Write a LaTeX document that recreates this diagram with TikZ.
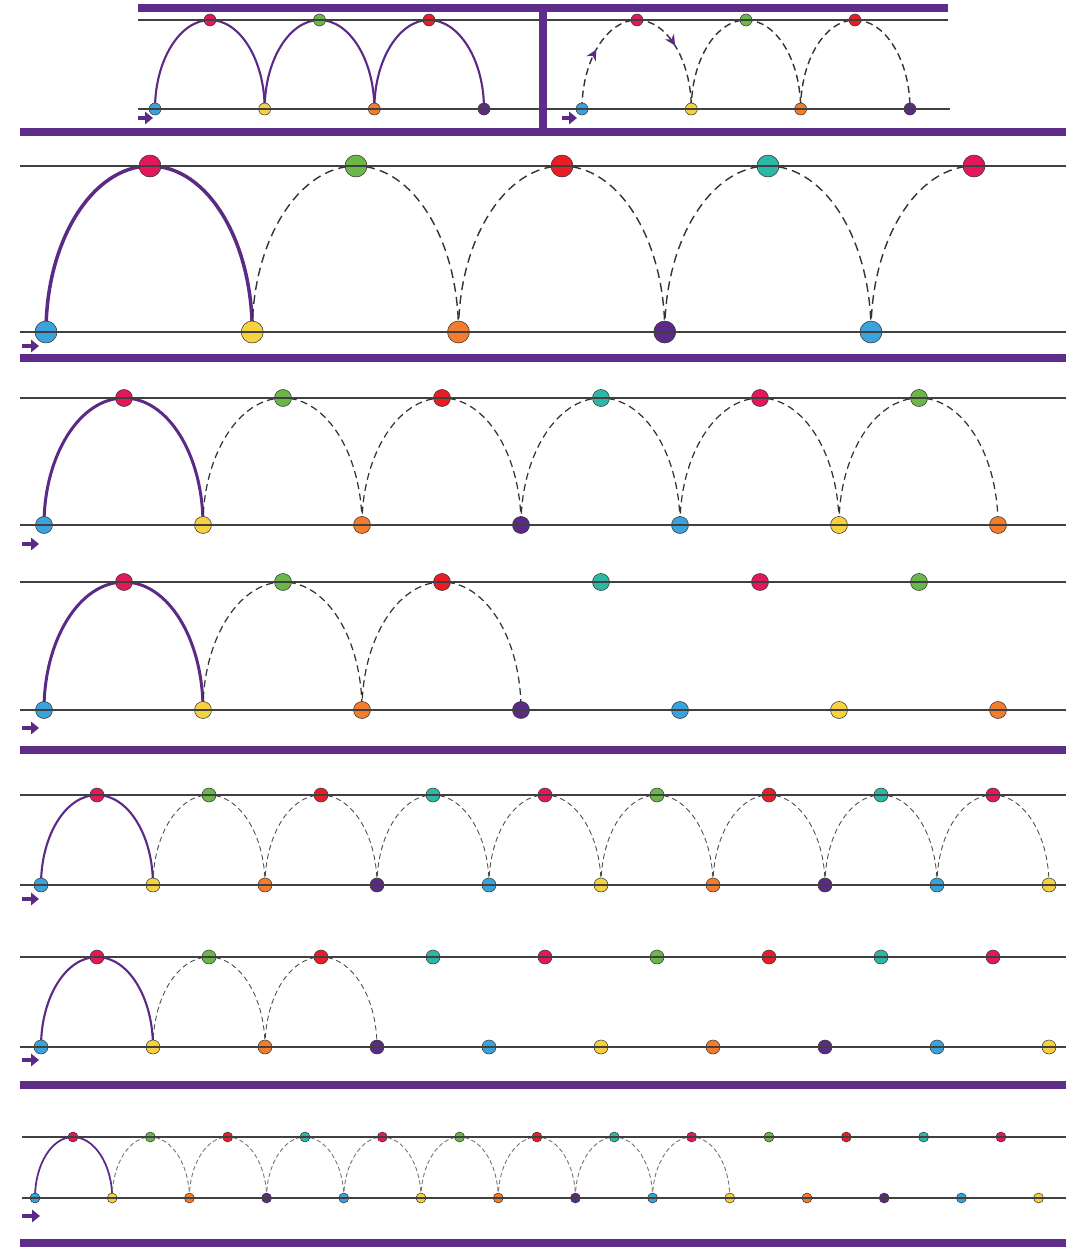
\documentclass[tikz,border=0pt]{standalone}
\usepackage{xcolor}
\usepackage{tikz}
\usetikzlibrary{arrows.meta, backgrounds, decorations.markings}

\definecolor{beadblue}{HTML}{3BA3DC}
\definecolor{beadyellow}{HTML}{F7D23E}
\definecolor{beadorange}{HTML}{F47C2B}
\definecolor{beadviolet}{HTML}{5B2A86}
\definecolor{beadcrimson}{HTML}{E4175B}
\definecolor{beadgreen}{HTML}{6BB74A}
\definecolor{beadred}{HTML}{EC1C24}
\definecolor{beadteal}{HTML}{2DB7A5}
\definecolor{barpurple}{HTML}{5E2C89}
\definecolor{hoppurple}{HTML}{5B2A86}

\begin{document}
\begin{tikzpicture}[
    x=0.02cm, y=-0.02cm,
    >=Stealth,
    bead/.style={circle, draw=black!80, line width=0.3pt, inner sep=0pt, minimum size=#1},
    rail/.style={line width=1.2pt, black!75},
    bar/.style={line width=4.5pt, barpurple},
    hop/.style={line width=1.6pt, hoppurple},
    skip/.style={dash pattern=on 4pt off 2.5pt, line width=0.7pt, black!80},
    entry/.style={-{Triangle[length=4.5pt,width=7pt]}, line width=2.6pt, hoppurple},
]
\useasboundingbox (0,0) rectangle (1066,1249);

% === PANEL A: solid hops ===
\foreach \c [count=\i] in {beadblue, beadyellow, beadorange, beadviolet}
    \node[bead=0.24cm, fill=\c] (ab\i) at ({155+(\i-1)*109.67}, 109) {};
\foreach \c [count=\i] in {beadcrimson, beadgreen, beadred}
    \node[bead=0.24cm, fill=\c] (at\i) at ({210+(\i-1)*109.5}, 20) {};

% === PANEL B: dashed hops ===
\foreach \c [count=\i] in {beadblue, beadyellow, beadorange, beadviolet}
    \node[bead=0.24cm, fill=\c] (bb\i) at ({582+(\i-1)*109.33}, 109) {};
\foreach \c [count=\i] in {beadcrimson, beadgreen, beadred}
    \node[bead=0.24cm, fill=\c] (bt\i) at ({637+(\i-1)*109}, 20) {};

\begin{scope}[on background layer]
    \foreach \i [evaluate=\i as \j using int(\i+1)] in {1,2,3}
        \draw[hop, line width=1.2pt] (ab\i.center) .. controls +(0,-49) and +(-30,0) .. (at\i.center)
            .. controls +(30,0) and +(0,-49) .. (ab\j.center);
    \draw[skip, line width=0.8pt, postaction={decorate}, decoration={markings,
            mark=at position 0.27 with {\arrow[hoppurple, solid]{Stealth[length=6pt,width=6pt]}},
            mark=at position 0.71 with {\arrow[hoppurple, solid]{Stealth[length=6pt,width=6pt]}}}]
        (bb1.center) .. controls +(0,-49) and +(-30,0) .. (bt1.center)
        .. controls +(30,0) and +(0,-49) .. (bb2.center);
    \foreach \i [evaluate=\i as \j using int(\i+1)] in {2,3}
        \draw[skip, line width=0.8pt] (bb\i.center) .. controls +(0,-49) and +(-30,0) .. (bt\i.center)
            .. controls +(30,0) and +(0,-49) .. (bb\j.center);
\end{scope}

\coordinate (aa1) at (138,118);
\coordinate (aa2) at (153,118);
\coordinate (ba1) at (562,118);
\coordinate (ba2) at (577,118);
\draw[entry, line width=2.2pt] (aa1) -- (aa2);
\draw[entry, line width=2.2pt] (ba1) -- (ba2);

\coordinate (rA1) at (138,20);
\coordinate (rA2) at (948,20);
\coordinate (rA3) at (138,109);
\coordinate (rA4) at (950,109);
\draw[rail] (rA1) -- (rA2);
\draw[rail] (rA3) -- (rA4);

\coordinate (bar0a) at (138,8);
\coordinate (bar0b) at (948,8);
\coordinate (bar0c) at (543,8);
\coordinate (bar0d) at (543,132);
\coordinate (bar1a) at (20,132);
\coordinate (bar1b) at (1066,132);
\draw[bar] (bar0a) -- (bar0b);
\draw[bar, line width=4pt] (bar0c) -- (bar0d);
\draw[bar] (bar1a) -- (bar1b);

% === PANEL 1: five rungs ===
\foreach \c [count=\i] in {beadblue, beadyellow, beadorange, beadviolet, beadblue}
    \node[bead=0.44cm, fill=\c] (p1b\i) at ({46+(\i-1)*206.25}, 332) {};
\foreach \c [count=\i] in {beadcrimson, beadgreen, beadred, beadteal, beadcrimson}
    \node[bead=0.44cm, fill=\c] (p1t\i) at ({150+(\i-1)*206}, 166) {};

\begin{scope}[on background layer]
    \draw[hop, line width=2pt] (p1b1.center) .. controls +(0,-92) and +(-57,0) .. (p1t1.center)
        .. controls +(57,0) and +(0,-92) .. (p1b2.center);
    \foreach \i [evaluate=\i as \j using int(\i+1)] in {2,3,4}
        \draw[skip, dash pattern=on 5pt off 3pt, line width=0.8pt] (p1b\i.center) .. controls +(0,-92) and +(-57,0) .. (p1t\i.center)
            .. controls +(57,0) and +(0,-92) .. (p1b\j.center);
    \draw[skip, dash pattern=on 5pt off 3pt, line width=0.8pt] (p1b5.center) .. controls +(0,-92) and +(-57,0) .. (p1t5.center);
\end{scope}

\coordinate (r1a) at (20,166);
\coordinate (r1b) at (1066,166);
\coordinate (r1c) at (20,332);
\coordinate (r1d) at (1066,332);
\draw[rail] (r1a) -- (r1b);
\draw[rail] (r1c) -- (r1d);
\coordinate (a1s) at (22,346);
\coordinate (a1e) at (39,346);
\draw[entry] (a1s) -- (a1e);
\coordinate (bar2a) at (20,358);
\coordinate (bar2b) at (1066,358);
\draw[bar] (bar2a) -- (bar2b);

% === PANEL 2: seven rungs, all hops ===
\foreach \c [count=\i] in {beadblue, beadyellow, beadorange, beadviolet, beadblue, beadyellow, beadorange}
    \node[bead=0.34cm, fill=\c] (p2b\i) at ({44+(\i-1)*159}, 525) {};
\foreach \c [count=\i] in {beadcrimson, beadgreen, beadred, beadteal, beadcrimson, beadgreen}
    \node[bead=0.34cm, fill=\c] (p2t\i) at ({124+(\i-1)*159}, 398) {};

\begin{scope}[on background layer]
    \draw[hop, line width=1.7pt] (p2b1.center) .. controls +(0,-70) and +(-44,0) .. (p2t1.center)
        .. controls +(44,0) and +(0,-70) .. (p2b2.center);
    \foreach \i [evaluate=\i as \j using int(\i+1)] in {2,...,6}
        \draw[skip] (p2b\i.center) .. controls +(0,-70) and +(-44,0) .. (p2t\i.center)
            .. controls +(44,0) and +(0,-70) .. (p2b\j.center);
\end{scope}

\coordinate (r2a) at (20,398);
\coordinate (r2b) at (1066,398);
\coordinate (r2c) at (20,525);
\coordinate (r2d) at (1066,525);
\draw[rail] (r2a) -- (r2b);
\draw[rail] (r2c) -- (r2d);
\coordinate (a2s) at (22,544);
\coordinate (a2e) at (39,544);
\draw[entry] (a2s) -- (a2e);

% === PANEL 3: seven rungs, three hops ===
\foreach \c [count=\i] in {beadblue, beadyellow, beadorange, beadviolet, beadblue, beadyellow, beadorange}
    \node[bead=0.34cm, fill=\c] (p3b\i) at ({44+(\i-1)*159}, 710) {};
\foreach \c [count=\i] in {beadcrimson, beadgreen, beadred, beadteal, beadcrimson, beadgreen}
    \node[bead=0.34cm, fill=\c] (p3t\i) at ({124+(\i-1)*159}, 582) {};

\begin{scope}[on background layer]
    \draw[hop, line width=1.7pt] (p3b1.center) .. controls +(0,-71) and +(-44,0) .. (p3t1.center)
        .. controls +(44,0) and +(0,-71) .. (p3b2.center);
    \foreach \i [evaluate=\i as \j using int(\i+1)] in {2,3}
        \draw[skip] (p3b\i.center) .. controls +(0,-71) and +(-44,0) .. (p3t\i.center)
            .. controls +(44,0) and +(0,-71) .. (p3b\j.center);
\end{scope}

\coordinate (r3a) at (20,582);
\coordinate (r3b) at (1066,582);
\coordinate (r3c) at (20,710);
\coordinate (r3d) at (1066,710);
\draw[rail] (r3a) -- (r3b);
\draw[rail] (r3c) -- (r3d);
\coordinate (a3s) at (22,728);
\coordinate (a3e) at (39,728);
\draw[entry] (a3s) -- (a3e);
\coordinate (bar3a) at (20,750);
\coordinate (bar3b) at (1066,750);
\draw[bar] (bar3a) -- (bar3b);

% === PANEL 4: ten rungs, all hops ===
\foreach \c [count=\i] in {beadblue, beadyellow, beadorange, beadviolet, beadblue, beadyellow, beadorange, beadviolet, beadblue, beadyellow}
    \node[bead=0.28cm, fill=\c] (p4b\i) at ({41+(\i-1)*112}, 885) {};
\foreach \c [count=\i] in {beadcrimson, beadgreen, beadred, beadteal, beadcrimson, beadgreen, beadred, beadteal, beadcrimson}
    \node[bead=0.28cm, fill=\c] (p4t\i) at ({97+(\i-1)*112}, 795) {};

\begin{scope}[on background layer]
    \draw[hop, line width=1.2pt] (p4b1.center) .. controls +(0,-50) and +(-31,0) .. (p4t1.center)
        .. controls +(31,0) and +(0,-50) .. (p4b2.center);
    \foreach \i [evaluate=\i as \j using int(\i+1)] in {2,...,9}
        \draw[skip, dash pattern=on 3pt off 2pt, line width=0.5pt, black!70] (p4b\i.center) .. controls +(0,-50) and +(-31,0) .. (p4t\i.center)
            .. controls +(31,0) and +(0,-50) .. (p4b\j.center);
\end{scope}

\coordinate (r4a) at (20,795);
\coordinate (r4b) at (1066,795);
\coordinate (r4c) at (20,885);
\coordinate (r4d) at (1066,885);
\draw[rail] (r4a) -- (r4b);
\draw[rail] (r4c) -- (r4d);
\coordinate (a4s) at (22,899);
\coordinate (a4e) at (39,899);
\draw[entry] (a4s) -- (a4e);

% === PANEL 5: ten rungs, three hops ===
\foreach \c [count=\i] in {beadblue, beadyellow, beadorange, beadviolet, beadblue, beadyellow, beadorange, beadviolet, beadblue, beadyellow}
    \node[bead=0.28cm, fill=\c] (p5b\i) at ({41+(\i-1)*112}, 1047) {};
\foreach \c [count=\i] in {beadcrimson, beadgreen, beadred, beadteal, beadcrimson, beadgreen, beadred, beadteal, beadcrimson}
    \node[bead=0.28cm, fill=\c] (p5t\i) at ({97+(\i-1)*112}, 957) {};

\begin{scope}[on background layer]
    \draw[hop, line width=1.2pt] (p5b1.center) .. controls +(0,-50) and +(-31,0) .. (p5t1.center)
        .. controls +(31,0) and +(0,-50) .. (p5b2.center);
    \foreach \i [evaluate=\i as \j using int(\i+1)] in {2,3}
        \draw[skip, dash pattern=on 3pt off 2pt, line width=0.5pt, black!70] (p5b\i.center) .. controls +(0,-50) and +(-31,0) .. (p5t\i.center)
            .. controls +(31,0) and +(0,-50) .. (p5b\j.center);
\end{scope}

\coordinate (r5a) at (20,957);
\coordinate (r5b) at (1066,957);
\coordinate (r5c) at (20,1047);
\coordinate (r5d) at (1066,1047);
\draw[rail] (r5a) -- (r5b);
\draw[rail] (r5c) -- (r5d);
\coordinate (a5s) at (22,1060);
\coordinate (a5e) at (39,1060);
\draw[entry] (a5s) -- (a5e);
\coordinate (bar5a) at (20,1085);
\coordinate (bar5b) at (1066,1085);
\draw[bar] (bar5a) -- (bar5b);

% === PANEL 6: fourteen rungs ===
\foreach \c [count=\i] in {beadblue, beadyellow, beadorange, beadviolet, beadblue, beadyellow, beadorange, beadviolet, beadblue, beadyellow, beadorange, beadviolet, beadblue, beadyellow}
    \node[bead=0.2cm, fill=\c] (p6b\i) at ({35+(\i-1)*77.2}, 1198) {};
\foreach \c [count=\i] in {beadcrimson, beadgreen, beadred, beadteal, beadcrimson, beadgreen, beadred, beadteal, beadcrimson, beadgreen, beadred, beadteal, beadcrimson}
    \node[bead=0.2cm, fill=\c] (p6t\i) at ({73+(\i-1)*77.33}, 1137) {};

\begin{scope}[on background layer]
    \draw[hop, line width=1pt] (p6b1.center) .. controls +(0,-34) and +(-21,0) .. (p6t1.center)
        .. controls +(21,0) and +(0,-34) .. (p6b2.center);
    \foreach \i [evaluate=\i as \j using int(\i+1)] in {2,...,9}
        \draw[skip, dash pattern=on 2.5pt off 1.5pt, line width=0.5pt, black!55] (p6b\i.center) .. controls +(0,-34) and +(-21,0) .. (p6t\i.center)
            .. controls +(21,0) and +(0,-34) .. (p6b\j.center);
\end{scope}

\coordinate (r6a) at (22,1137);
\coordinate (r6b) at (1066,1137);
\coordinate (r6c) at (22,1198);
\coordinate (r6d) at (1066,1198);
\draw[rail] (r6a) -- (r6b);
\draw[rail] (r6c) -- (r6d);
\coordinate (a6s) at (22,1216);
\coordinate (a6e) at (40,1216);
\draw[entry] (a6s) -- (a6e);
\coordinate (bar6a) at (20,1243);
\coordinate (bar6b) at (1066,1243);
\draw[bar] (bar6a) -- (bar6b);

\end{tikzpicture}
\end{document}
